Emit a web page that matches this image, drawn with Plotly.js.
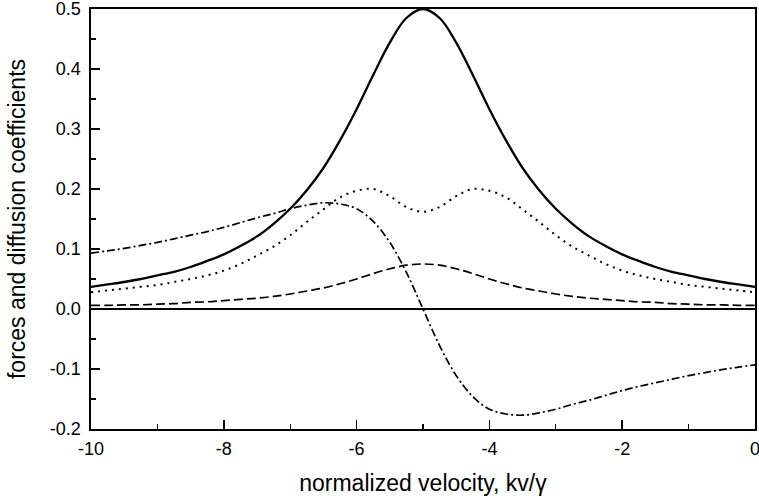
<!DOCTYPE html>
<html>
<head>
<meta charset="utf-8">
<script src="https://cdn.plot.ly/plotly-3.0.1.min.js"></script>
<style>
  html, body { margin: 0; padding: 0; background: #ffffff; }
  #chart { width: 759px; height: 500px; }
</style>
</head>
<body>
<div id="chart"></div>
<script>
// normalized velocity kv/gamma
const velocity = [
  -10.00, -9.75, -9.50, -9.25, -9.00, -8.75, -8.50, -8.25, -8.00, -7.75,
  -7.50, -7.25, -7.00, -6.75, -6.50, -6.25, -6.00, -5.75, -5.50, -5.25,
  -5.00, -4.75, -4.50, -4.25, -4.00, -3.75, -3.50, -3.25, -3.00, -2.75,
  -2.50, -2.25, -2.00, -1.75, -1.50, -1.25, -1.00, -0.75, -0.50, -0.25, 0.00
];

// solid curve
const solidSeries = [
  0.037, 0.041, 0.045, 0.050, 0.056, 0.062, 0.070, 0.080, 0.091, 0.105,
  0.121, 0.142, 0.167, 0.198, 0.235, 0.281, 0.333, 0.390, 0.444, 0.485,
  0.500, 0.485, 0.444, 0.390, 0.333, 0.281, 0.235, 0.198, 0.167, 0.142,
  0.121, 0.105, 0.091, 0.080, 0.070, 0.062, 0.056, 0.050, 0.045, 0.041, 0.037
];

// dashed curve
const dashedSeries = [
  0.006, 0.006, 0.007, 0.007, 0.008, 0.009, 0.011, 0.012, 0.014, 0.016,
  0.018, 0.021, 0.025, 0.030, 0.035, 0.042, 0.050, 0.059, 0.067, 0.073,
  0.075, 0.073, 0.067, 0.059, 0.050, 0.042, 0.035, 0.030, 0.025, 0.021,
  0.018, 0.016, 0.014, 0.012, 0.011, 0.009, 0.008, 0.007, 0.007, 0.006, 0.006
];

// dotted curve
const dottedSeries = [
  0.028, 0.031, 0.034, 0.037, 0.040, 0.045, 0.050, 0.056, 0.064, 0.075,
  0.089, 0.104, 0.123, 0.145, 0.166, 0.186, 0.197, 0.200, 0.188, 0.170,
  0.162, 0.170, 0.188, 0.200, 0.197, 0.186, 0.166, 0.145, 0.123, 0.104,
  0.089, 0.075, 0.064, 0.056, 0.050, 0.045, 0.040, 0.037, 0.034, 0.031, 0.028
];

// dash-dot curve
const dashDotSeries = [
  0.093, 0.097, 0.101, 0.106, 0.111, 0.117, 0.123, 0.129, 0.136, 0.144,
  0.152, 0.159, 0.167, 0.173, 0.177, 0.175, 0.167, 0.146, 0.111, 0.061,
  0.000, -0.061, -0.111, -0.146, -0.167, -0.175, -0.177, -0.173, -0.167, -0.159,
  -0.152, -0.144, -0.136, -0.129, -0.123, -0.117, -0.111, -0.106, -0.101, -0.097, -0.093
];

const xTickVals = [-10, -8, -6, -4, -2, 0];
const xTickText = ["-10", "-8", "-6", "-4", "-2", "0"];
const yTickVals = [-0.2, -0.1, 0.0, 0.1, 0.2, 0.3, 0.4, 0.5];
const yTickText = ["-0.2", "-0.1", "0.0", "0.1", "0.2", "0.3", "0.4", "0.5"];

const FONT = "Liberation Sans, Arial, Helvetica, sans-serif";

function curve(y, dash, width, name) {
  return {
    x: velocity, y: y, type: "scatter", mode: "lines", name: name,
    line: { color: "#000000", width: width, dash: dash, shape: "spline", smoothing: 1 },
    hoverinfo: "x+y"
  };
}

const traces = [
  curve(dashedSeries, "9px,4px", 1.7, "dashed"),
  curve(dottedSeries, "2px,5px", 2.0, "dotted"),
  curve(dashDotSeries, "8px,3px,2px,3px", 1.7, "dash-dot"),
  curve(solidSeries, "solid", 2.3, "solid")
];

const layout = {
  width: 759, height: 500,
  margin: { l: 91, r: 4, t: 9, b: 71, pad: 0 },
  paper_bgcolor: "#ffffff", plot_bgcolor: "#ffffff",
  showlegend: false,
  font: { family: FONT, color: "#000000", size: 18 },
  xaxis: {
    range: [-10, 0], autorange: false,
    showline: true, linecolor: "#000000", linewidth: 1.6, mirror: true,
    showgrid: false, zeroline: false,
    tickmode: "array", tickvals: xTickVals, ticktext: xTickText,
    ticks: "inside", ticklen: 9, tickwidth: 1.5, tickcolor: "#000000",
    ticklabelstandoff: 3, ticklabeloverflow: "allow",
    minor: { ticks: "inside", tickmode: "linear", tick0: -10, dtick: 1, ticklen: 5, tickwidth: 1.2, tickcolor: "#000000", showgrid: false },
    tickfont: { family: FONT, size: 18, color: "#000000" },
    title: { text: "normalized velocity, kv/γ", font: { family: FONT, size: 23, color: "#000000" }, standoff: 16 },
    automargin: false
  },
  yaxis: {
    range: [-0.2, 0.5], autorange: false,
    showline: true, linecolor: "#000000", linewidth: 1.6, mirror: true,
    showgrid: false,
    zeroline: true, zerolinecolor: "#000000", zerolinewidth: 1.4,
    tickmode: "array", tickvals: yTickVals, ticktext: yTickText,
    ticks: "inside", ticklen: 9, tickwidth: 1.5, tickcolor: "#000000",
    ticklabelstandoff: 5, ticklabeloverflow: "allow",
    minor: { ticks: "inside", tickmode: "linear", tick0: -0.2, dtick: 0.05, ticklen: 5, tickwidth: 1.2, tickcolor: "#000000", showgrid: false },
    tickfont: { family: FONT, size: 18, color: "#000000" },
    title: { text: "forces and diffusion coefficients", font: { family: FONT, size: 23, color: "#000000" }, standoff: 18 },
    automargin: false
  }
};

Plotly.newPlot("chart", traces, layout, { displayModeBar: false, staticPlot: true });
</script>
</body>
</html>
